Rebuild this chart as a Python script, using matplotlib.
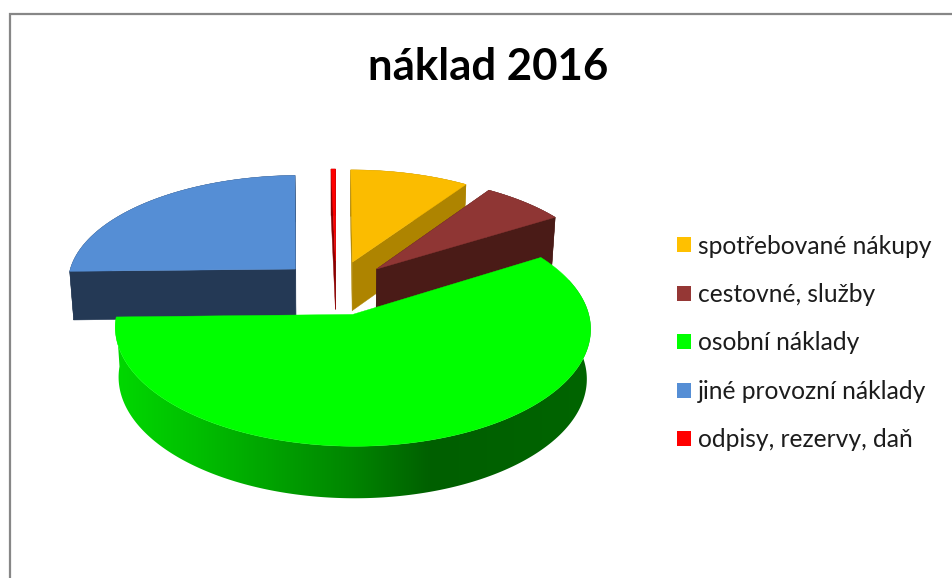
import numpy as np
import matplotlib
matplotlib.use("Agg")
import matplotlib.pyplot as plt
from matplotlib.patches import Patch, Polygon, Rectangle
from matplotlib.colors import LinearSegmentedColormap

title = "náklad 2016"
categories = ["spotřebované nákupy", "cestovné, služby", "osobní náklady",
              "jiné provozní náklady", "odpisy, rezervy, daň"]
values = [9.5, 6.7, 58.45, 25.0, 0.35]
top_colors = ["#FBBC00", "#8F3634", "#00FF00", "#558ED5", "#FF0000"]
wall_colors = ["#AE8400", "#4A1B17", "#006000", "#243955", "#8A0000"]
legend_colors = ["#FFC000", "#953735", "#00FF00", "#558ED5", "#FF0000"]
draw_order = [3, 4, 0, 1, 2]

# projection style
CX, CY, RX, RY = 336.0, 287.5, 229.5, 109.0
PERSP_X, PERSP_Y, EXPLODE = 0.115, 0.12, 0.25
DEPTH, DEPTH_PERSP, BOTTOM_SCALE = 49.0, 0.08, 0.985


def project(x, y, bottom=False):
    x, y = np.asarray(x, float), np.asarray(y, float)
    sx = CX + RX * x / (1 + PERSP_X * y)
    sy = CY - RY * y / (1 + PERSP_Y * y)
    if bottom:
        sx = CX + (sx - CX) * BOTTOM_SCALE
        sy = CY + (sy - CY) * BOTTOM_SCALE + DEPTH / (1 + DEPTH_PERSP * y)
    return np.column_stack([sx, sy])


fig = plt.figure(figsize=(9.52, 5.78), dpi=100, facecolor="white")
ax = fig.add_axes([0, 0, 1, 1])

# chart-area frame
ax.add_patch(Rectangle((9.5, 14.0), 1200, 1200, fc="white", ec="#878787", lw=1.6))

side_cmap = LinearSegmentedColormap.from_list(
    "side", [(0.0, "#00DA00"), (0.18, "#00BE00"), (0.49, "#008600"),
             (0.66, "#005F00"), (1.0, "#006500")])

fractions = np.array(values) / sum(values) * 2 * np.pi
ends = np.cumsum(fractions)
starts = ends - fractions

for z, i in enumerate(draw_order):
    a0, a1 = starts[i], ends[i]
    mid = (a0 + a1) / 2
    ox, oy = EXPLODE * np.sin(mid), EXPLODE * np.cos(mid)
    th = np.linspace(a0, a1, max(int((a1 - a0) * 90), 8))
    rim_x, rim_y = ox + np.sin(th), oy + np.cos(th)
    top_rim = project(rim_x, rim_y)
    bot_rim = project(rim_x, rim_y, bottom=True)
    apex_t = project([ox], [oy])
    apex_b = project([ox], [oy], bottom=True)
    base_z = 2 + z * 4
    is_large = categories[i] == "osobní náklady"

    # outer curved wall
    if is_large:
        im = ax.imshow(np.linspace(0, 1, 512)[None, :], cmap=side_cmap,
                       extent=(110, 598, 510, 280), aspect="auto",
                       zorder=base_z, interpolation="bilinear")
        im.set_clip_path(Polygon(np.vstack([top_rim, bot_rim[::-1]]),
                                 closed=True, transform=ax.transData))
    else:
        ax.add_patch(Polygon(np.vstack([top_rim, bot_rim[::-1]]), closed=True,
                             fc=wall_colors[i], ec=wall_colors[i], lw=0.3,
                             zorder=base_z))
        # radial walls
        for k in (0, -1):
            quad = [apex_t[0], top_rim[k], bot_rim[k], apex_b[0]]
            ax.add_patch(Polygon(quad, closed=True, fc=wall_colors[i],
                                 ec=wall_colors[i], lw=0.3, zorder=base_z + 1))
    # top face
    ax.add_patch(Polygon(np.vstack([apex_t, top_rim]), closed=True,
                         fc=top_colors[i], ec=top_colors[i], lw=0.3,
                         zorder=base_z + 2))

ax.set_xlim(0, 952)
ax.set_ylim(578, 0)
ax.axis("off")

ax.text(488, 67, title, ha="center", va="center", fontsize=31.5,
        fontweight="bold", family="Lato", color="black", zorder=40)

handles = [Patch(fc=c, ec="none") for c in legend_colors]
leg = ax.legend(handles, categories, loc="center left",
                bbox_to_anchor=(677, 343), bbox_transform=ax.transData,
                frameon=False, borderpad=0, borderaxespad=0,
                prop={"family": "Lato", "size": 17.7},
                handlelength=0.57, handleheight=0.57, handletextpad=0.28,
                labelspacing=1.036, labelcolor="#1c1c1c")
leg.set_zorder(40)

fig.savefig("out.png", dpi=100, facecolor="white")
